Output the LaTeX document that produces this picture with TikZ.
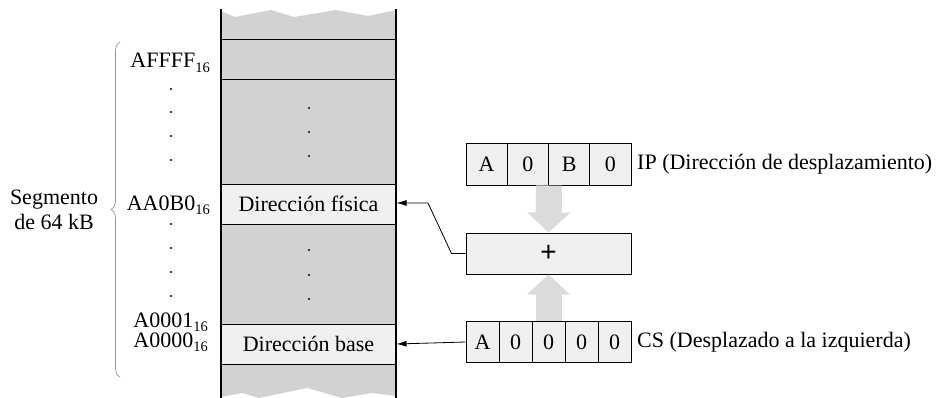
\documentclass[tikz,border=0pt]{standalone}
\usepackage{fontspec}
\setmainfont{Liberation Serif}
\newfontfamily\plusfont{Liberation Sans}
\usetikzlibrary{arrows.meta,decorations.pathreplacing}
\definecolor{memgray}{RGB}{209,210,212}
\definecolor{boxfill}{RGB}{240,240,241}
\definecolor{flowgray}{RGB}{218,219,221}
\definecolor{bracegray}{RGB}{150,150,150}
\newcommand{\hexsub}[1]{#1\raisebox{-0.45ex}{\fontsize{14.5}{14.5}\selectfont 16}}
\begin{document}
\begin{tikzpicture}[x=1pt,y=-1pt,
  font=\fontsize{22}{25}\selectfont,
  membox/.style={draw,line width=1pt,fill=boxfill,minimum width=175,minimum height=40,inner sep=0},
  regcell/.style={draw,line width=1pt,fill=boxfill,minimum height=41,inner sep=0},
  conn/.style={line width=0.8pt,-{Latex[length=10pt,width=6pt]}},
  flow/.style={flowgray,line width=26pt,-{Triangle[length=20pt,width=42pt]}}]
\useasboundingbox (0,0) rectangle (941,398);

\fill[memgray] (221,11) -- (235,17) -- (271,10) -- (294,17) -- (336,10) -- (368,16) -- (396,10)
  -- (396,396) -- (372,393) -- (342,398) -- (307,388) -- (259,398) -- (242,393) -- (221,397) -- cycle;
\draw[line width=1pt] (221,40) -- (396,40);
\draw[line width=1pt] (221,80) -- (396,80);
\node[membox] (fis) at (308.5,204) {Dirección física};
\node[membox] (base) at (308.5,344) {Dirección base};
\draw[line width=2.2pt] (221,9) -- (221,398);
\draw[line width=2.2pt] (396,9) -- (396,398);
\foreach \y in {108,132,156,250,275,299}
  \fill (309,\y) circle (1.2);

\node[anchor=base east,inner sep=0] (affff) at (210,68) {\hexsub{AFFFF}};
\node[anchor=base east,inner sep=0] (aa0b0) at (210,210) {\hexsub{AA0B0}};
\node[anchor=base east,inner sep=0] (a0001) at (208,327) {\hexsub{A0001}};
\node[anchor=base east,inner sep=0] (a0000) at (208,347) {\hexsub{A0000}};
\foreach \y in {89,112,136,160,224,248,272,296}
  \fill (171,\y) circle (1.2);

\draw[bracegray,line width=0.7pt,decorate,decoration={brace,amplitude=9pt,aspect=0.5}] (120,377) -- (120,42);
\node[align=center,inner sep=0] (seg) at (54,210) {Segmento\\de 64 kB};

\foreach \d [count=\i] in {A,0,B,0}
  \node[regcell,minimum width=41.25] (ip\i) at ({466+41.25*(\i-0.5)},164.5) {\d};
\node[anchor=west,inner sep=0] (iplab) at (637,164.5) {IP (Dirección de desplazamiento)};

\node[regcell,minimum width=165] (plus) at (548.5,253.5) {\plusfont\fontsize{28}{28}\selectfont +};

\foreach \d [count=\i] in {A,0,0,0,0}
  \node[regcell,minimum width=33] (cs\i) at ({466+33*(\i-0.5)},342) {\d};
\node[anchor=west,inner sep=0] (cslab) at (637,342) {CS (Desplazado a la izquierda)};

\draw[flow] (ip2.south east) -- (plus.north);
\draw[flow] (cs3.north) -- (plus.south);

\coordinate (bend) at (428,203);
\draw[conn] (plus.west) -- ++(-14,0) -- (bend) -- (fis.east |- bend);
\draw[conn] (cs1.west) -- (base.east);
\end{tikzpicture}
\end{document}
